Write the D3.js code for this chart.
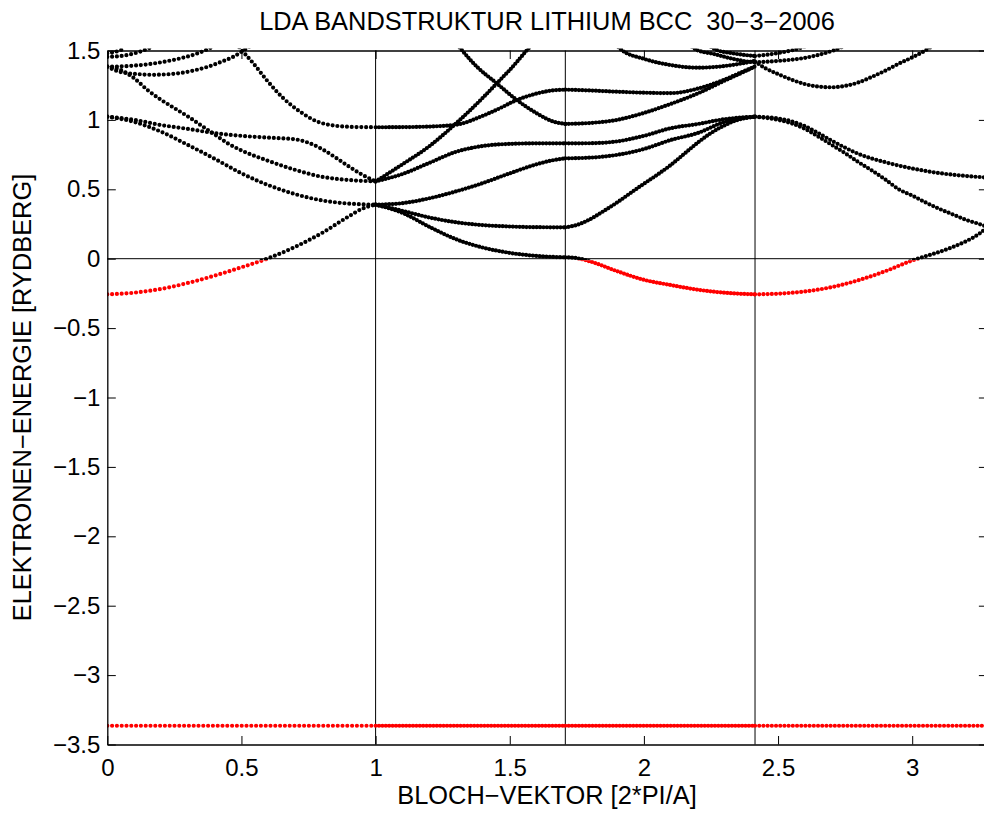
<!DOCTYPE html>
<html>
<head>
<meta charset="utf-8">
<script src="https://cdn.jsdelivr.net/npm/d3@7"></script>
<style>
  body { margin: 0; background: #fff; }
  text { font-family: "Liberation Sans", Arial, Helvetica, sans-serif; fill: #000; }
</style>
</head>
<body>
<div id="chart"></div>
<script>
////////////////////////////////////////////////////////////////////////
// Data. k in units of 2*PI/A, E in Rydberg.

// symmetry points on the path (H, N, Gamma)
let symK = [1, 1.7071, 2.4142];
let kMax = 3.2802;
let xTicks = [0, 0.5, 1, 1.5, 2, 2.5, 3];
let yTicks = [-3.5, -3, -2.5, -2, -1.5, -1, -0.5, 0, 0.5, 1, 1.5];
let coreLevel = -3.365;

// Gamma -> H
let bandsGH = [
  [[0,-0.257],[0.1,-0.245],[0.2,-0.218],[0.3,-0.175],[0.4,-0.122],[0.5,-0.062],[0.6,0.003],[0.7,0.085],[0.8,0.185],[0.9,0.305],[0.95,0.36],[1,0.389]],
  [[0,1.023],[0.1,0.985],[0.2,0.915],[0.3,0.82],[0.4,0.72],[0.5,0.615],[0.6,0.53],[0.7,0.465],[0.8,0.42],[0.9,0.397],[1,0.389]],
  [[0,1.023],[0.1,1.0],[0.2,0.963],[0.3,0.935],[0.4,0.905],[0.5,0.885],[0.6,0.872],[0.7,0.86],[0.75,0.835],[0.8,0.79],[0.85,0.73],[0.9,0.665],[0.95,0.605],[1,0.557]],
  [[0,1.385],[0.05,1.36],[0.1,1.3],[0.15,1.215],[0.2,1.145],[0.25,1.085],[0.3,1.025],[0.35,0.96],[0.4,0.895],[0.45,0.83],[0.5,0.78],[0.6,0.705],[0.7,0.64],[0.8,0.59],[0.9,0.567],[1,0.557]],
  [[0,1.383],[0.1,1.391],[0.16,1.403],[0.22,1.422],[0.28,1.447],[0.33,1.475],[0.364,1.5],[0.4,1.535]],
  [[0,1.383],[0.04,1.35],[0.08,1.335],[0.12,1.329],[0.17,1.325],[0.22,1.328],[0.27,1.337],[0.32,1.355],[0.37,1.38],[0.42,1.415],[0.47,1.455],[0.5,1.49],[0.53,1.53]],
  [[0.47,1.58],[0.5,1.505],[0.544,1.408],[0.594,1.287],[0.656,1.156],[0.718,1.06],[0.78,0.99],[0.842,0.96],[0.92,0.949],[1,0.947]],
  [[0,1.455],[0.04,1.458],[0.08,1.47],[0.12,1.49],[0.16,1.52]],
  [[0,1.48],[0.03,1.49],[0.06,1.51]],
  [[0,coreLevel],[1,coreLevel]]
];

// H -> N
let bandsHN = [
  [[1,0.389],[1.1,0.33],[1.2,0.23],[1.3,0.14],[1.4,0.08],[1.5,0.042],[1.6,0.02],[1.7071,0.01]],
  [[1,0.389],[1.1,0.345],[1.2,0.297],[1.3,0.262],[1.4,0.242],[1.5,0.232],[1.6,0.227],[1.7071,0.226]],
  [[1,0.389],[1.1,0.40],[1.2,0.435],[1.3,0.485],[1.4,0.545],[1.5,0.615],[1.6,0.68],[1.65,0.705],[1.7071,0.723]],
  [[1,0.557],[1.1,0.61],[1.2,0.69],[1.3,0.77],[1.4,0.812],[1.5,0.827],[1.6,0.831],[1.7071,0.831]],
  [[1,0.557],[1.1,0.68],[1.2,0.81],[1.3,0.975],[1.4,1.16],[1.476,1.312],[1.5,1.36],[1.563,1.5],[1.6,1.58]],
  [[1,0.947],[1.1,0.948],[1.2,0.952],[1.3,0.965],[1.4,1.03],[1.476,1.096],[1.5,1.12],[1.6,1.19],[1.65,1.21],[1.7071,1.218]],
  [[1.29,1.58],[1.321,1.504],[1.377,1.384],[1.451,1.264],[1.526,1.144],[1.6,1.048],[1.662,0.988],[1.7071,0.971]],
  [[1,coreLevel],[1.7071,coreLevel]]
];

// N -> Gamma
let bandsNG = [
  [[1.7071,0.01],[1.75,0.004],[1.8,-0.02],[1.9,-0.09],[2.0,-0.152],[2.1,-0.19],[2.2,-0.223],[2.3,-0.245],[2.4142,-0.257]],
  [[1.7071,0.226],[1.75,0.243],[1.8,0.285],[1.85,0.343],[1.9,0.405],[1.95,0.473],[2.0,0.54],[2.05,0.605],[2.1,0.675],[2.15,0.755],[2.2,0.835],[2.25,0.905],[2.3,0.96],[2.35,1.0],[2.4142,1.023]],
  [[1.7071,0.723],[1.8,0.728],[1.9,0.748],[2.0,0.79],[2.1,0.855],[2.2,0.905],[2.3,0.985],[2.4142,1.023]],
  [[1.7071,0.831],[1.8,0.832],[1.9,0.845],[2.0,0.885],[2.1,0.94],[2.2,0.97],[2.3,1.005],[2.4142,1.023]],
  [[1.7071,0.971],[1.8,0.978],[1.9,1.0],[2.0,1.05],[2.1,1.115],[2.2,1.19],[2.3,1.282],[2.36,1.335],[2.4142,1.385]],
  [[1.7071,1.218],[1.8,1.212],[1.9,1.203],[2.0,1.196],[2.1,1.193],[2.2,1.225],[2.3,1.29],[2.36,1.34],[2.4142,1.385]],
  [[1.88,1.58],[1.917,1.504],[2.0,1.44],[2.1,1.395],[2.2,1.376],[2.3,1.388],[2.36,1.405],[2.4142,1.425]],
  [[2.16,1.56],[2.197,1.504],[2.26,1.475],[2.32,1.445],[2.37,1.425],[2.4142,1.415]],
  [[2.24,1.54],[2.27,1.504],[2.33,1.48],[2.4142,1.46]],
  [[1.7071,coreLevel],[2.4142,coreLevel]]
];

// Gamma -> P
let bandsGP = [
  [[2.4142,-0.257],[2.5,-0.252],[2.6,-0.236],[2.7,-0.205],[2.8,-0.155],[2.9,-0.09],[3.0,-0.013],[3.05,0.018],[3.1,0.048],[3.15,0.083],[3.2,0.125],[3.25,0.18],[3.2802,0.228]],
  [[2.4142,1.023],[2.5,1.0],[2.55,0.975],[2.6,0.935],[2.65,0.88],[2.7,0.82],[2.75,0.76],[2.8,0.695],[2.85,0.635],[2.9,0.57],[2.95,0.50],[3.0,0.455],[3.05,0.405],[3.1,0.36],[3.15,0.32],[3.2,0.28],[3.25,0.25],[3.2802,0.23]],
  [[2.4142,1.023],[2.5,1.01],[2.55,0.99],[2.6,0.955],[2.65,0.905],[2.7,0.85],[2.75,0.80],[2.8,0.755],[2.9,0.695],[3.0,0.65],[3.1,0.617],[3.2,0.596],[3.2802,0.585]],
  [[2.4142,1.42],[2.45,1.375],[2.5,1.33],[2.55,1.29],[2.6,1.258],[2.65,1.24],[2.7,1.235],[2.75,1.245],[2.8,1.27],[2.85,1.31],[2.9,1.355],[2.95,1.405],[3.0,1.45],[3.04,1.49],[3.08,1.54]],
  [[2.4142,1.415],[2.5,1.425],[2.6,1.447],[2.65,1.468],[2.706,1.5],[2.75,1.535]],
  [[2.4142,1.46],[2.46,1.47],[2.51,1.485],[2.556,1.503],[2.6,1.53]],
  [[2.4142,coreLevel],[kMax,coreLevel]]
];

////////////////////////////////////////////////////////////////////////
// Layout

let width = 984;
let height = 814;
let mLeft = 107.3, mRight = 107.3 + 268.3 * kMax;
let mTop = 50.5, mBottom = 744.5;

let xScale = d3.scaleLinear().domain([0, kMax]).range([mLeft, mRight]);
let yScale = d3.scaleLinear().domain([-3.5, 1.5]).range([mBottom, mTop]);

let svg = d3.select("#chart")
  .append("svg")
  .attr("width", width).attr("height", height);

// black above the fermi level, red below. The split sits a hair under
// the zero line so dots just above it stay black.
let split = yScale(0) + 1.5;
let defs = svg.append("defs");
defs.append("clipPath").attr("id", "clipUp")
  .append("rect")
  .attr("x", mLeft).attr("y", mTop - 2)
  .attr("width", mRight - mLeft).attr("height", split - mTop + 2);
defs.append("clipPath").attr("id", "clipDown")
  .append("rect")
  .attr("x", mLeft).attr("y", split)
  .attr("width", mRight - mLeft).attr("height", mBottom - split);

// symmetry lines and the zero line
svg.append("g")
  .selectAll("line")
  .data(symK)
  .enter()
  .append("line")
  .attr("x1", d => xScale(d)).attr("x2", d => xScale(d))
  .attr("y1", mTop).attr("y2", mBottom)
  .attr("stroke", "#000").attr("stroke-width", 1);

svg.append("line")
  .attr("x1", mLeft).attr("x2", mRight)
  .attr("y1", yScale(0)).attr("y2", yScale(0))
  .attr("stroke", "#000").attr("stroke-width", 1);

// dotted bands, one dot spacing per segment (pixels along the curve)
let segments = [
  {bands: bandsGH, gap: 4.8},
  {bands: bandsHN, gap: 3.4},
  {bands: bandsNG, gap: 3.4},
  {bands: bandsGP, gap: 4.2}
];

let line = d3.line()
  .x(d => xScale(d[0]))
  .y(d => yScale(d[1]))
  .curve(d3.curveMonotoneX);

let gUp = svg.append("g").attr("clip-path", "url(#clipUp)");
let gDown = svg.append("g").attr("clip-path", "url(#clipDown)");

segments.forEach(seg => {
  [[gUp, "#000"], [gDown, "#ff0000"]].forEach(([g, color]) => {
    g.append("g")
      .selectAll("path")
      .data(seg.bands)
      .enter()
      .append("path")
      .attr("d", line)
      .attr("fill", "none")
      .attr("stroke", color)
      .attr("stroke-width", 4.2)
      .attr("stroke-linecap", "round")
      .attr("stroke-dasharray", `0 ${seg.gap}`);
  });
});

// axes, ticks inside like matlab
let fmt = d3.format("~g");
let tick = 8.5;

svg.append("g")
  .attr("transform", `translate(0, ${mBottom})`)
  .call(d3.axisBottom(xScale).tickValues(xTicks).tickFormat(fmt)
        .tickSizeInner(-tick).tickSizeOuter(0).tickPadding(14.5));

svg.append("g")
  .attr("transform", `translate(0, ${mTop})`)
  .call(d3.axisTop(xScale).tickValues(xTicks).tickFormat("")
        .tickSizeInner(-tick).tickSizeOuter(0));

svg.append("g")
  .attr("transform", `translate(${mLeft}, 0)`)
  .call(d3.axisLeft(yScale).tickValues(yTicks).tickFormat(fmt)
        .tickSizeInner(-tick).tickSizeOuter(0).tickPadding(7));

svg.append("g")
  .attr("transform", `translate(${mRight}, 0)`)
  .call(d3.axisRight(yScale).tickValues(yTicks).tickFormat("")
        .tickSizeInner(-tick).tickSizeOuter(0));

svg.selectAll(".domain").attr("stroke", "#000").attr("stroke-width", 1.3);
svg.selectAll(".tick line").attr("stroke", "#000").attr("stroke-width", 1);
svg.selectAll(".tick text")
  .style("font-family", '"Liberation Sans", Arial, sans-serif')
  .style("font-size", "24px")
  .attr("fill", "#000");

// titles
svg.append("text")
  .attr("x", 547).attr("y", 30)
  .attr("text-anchor", "middle")
  .style("font-size", "25.4px")
  .text("LDA BANDSTRUKTUR LITHIUM BCC\u00a0\u00a030\u22123\u22122006");

svg.append("text")
  .attr("x", 547).attr("y", 804)
  .attr("text-anchor", "middle")
  .style("font-size", "25.4px")
  .text("BLOCH\u2212VEKTOR [2*PI/A]");

svg.append("text")
  .attr("transform", `translate(31, ${(mTop + mBottom) / 2}) rotate(-90)`)
  .attr("text-anchor", "middle")
  .style("font-size", "25.4px")
  .text("ELEKTRONEN\u2212ENERGIE [RYDBERG]");
</script>
</body>
</html>
